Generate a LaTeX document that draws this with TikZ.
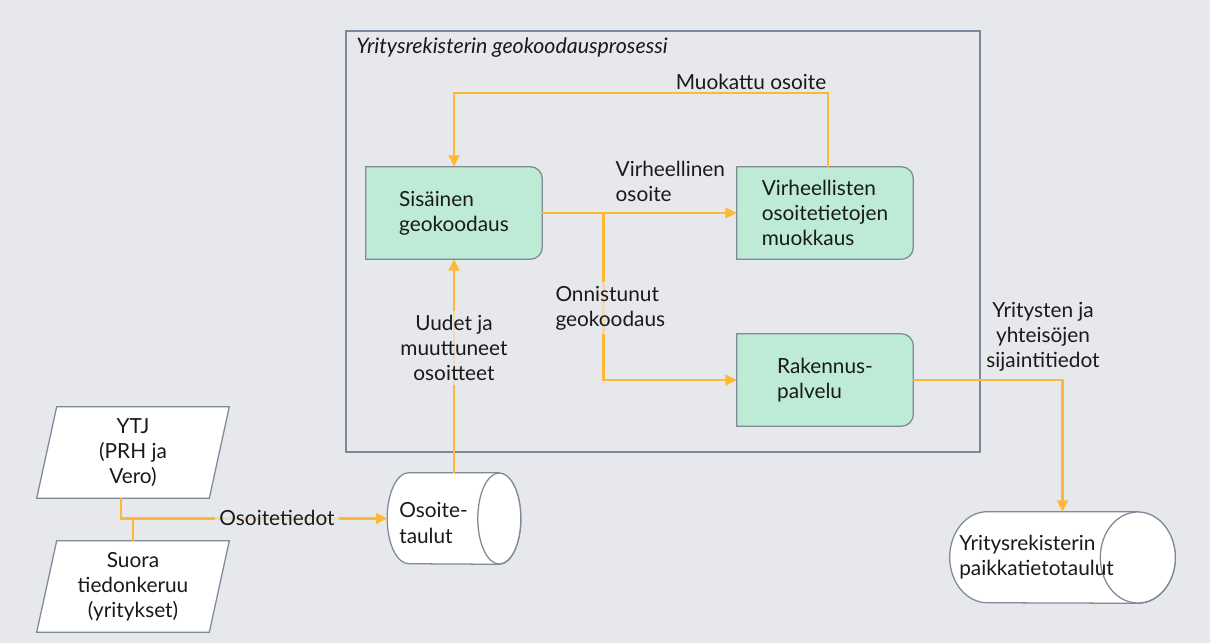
\documentclass[tikz,border=0pt]{standalone}
\usepackage{fontspec}
\setmainfont{Lato}
\usetikzlibrary{arrows.meta,backgrounds,calc}
\definecolor{bg}{HTML}{E7E8EC}
\definecolor{orng}{HTML}{FDB933}
\definecolor{boxgreen}{HTML}{BDEBD5}
\definecolor{boxgrey}{HTML}{7F8A96}
\definecolor{framegrey}{HTML}{7B879A}
\definecolor{txt}{HTML}{1A1A1A}
\tikzset{
  every node/.style={font=\fontsize{14.8}{17.8}\selectfont, text=txt},
  procbox/.style={minimum width=4.4cm, minimum height=2.3cm, align=left, inner sep=0pt},
  holder/.style={minimum height=2.275cm, inner sep=0pt},
  flow/.style={draw=orng, line width=1.8pt, -{Triangle[length=8pt,width=7.5pt]}},
  plainline/.style={draw=orng, line width=1.8pt},
  lbl/.style={align=center, inner sep=1pt},
  lblbg/.style={lbl, fill=bg, fill opacity=0.75, text opacity=1, inner sep=3pt},
  shapeline/.style={draw=boxgrey, line width=0.9pt},
}
\begin{document}
\begin{tikzpicture}[x=0.025cm,y=-0.025cm]
% frame of the process
\node[draw=framegrey, line width=1.2pt, minimum width=15.85cm, minimum height=10.525cm, inner sep=0pt] (proc) at (663,241.5) {};
\node[anchor=west, inner sep=0pt, font=\fontsize{15.2}{18}\selectfont\itshape] (title) at (356,48) {Yritysrekisterin geokoodausprosessi};

% process boxes
\node[procbox] (sis) at (454,213) {Sisäinen\\geokoodaus};
\node[procbox] (virh) at (825,213) {Virheellisten\\osoitetietojen\\muokkaus};
\node[procbox] (rak) at (825,380) {Rakennus-\\palvelu};

% data stores
\node[holder, minimum width=3.325cm] (osoite) at (454,518.5) {};
\node[anchor=west, align=left, inner sep=0pt] (osoitetxt) at (399,523) {Osoite-\\taulut};
\node[holder, minimum width=5.625cm] (yrit) at (1062.5,557.5) {};
\node[anchor=west, align=left, inner sep=0pt] (yrittxt) at (959,557) {Yritysrekisterin\\paikkatietotaulut};

% inputs
\node[holder, minimum width=4.8cm, align=center] (ytj) at (133,452.5) {YTJ\\(PRH ja\\Vero)};
\node[holder, minimum width=4.8cm, align=center] (suora) at (133,586.5) {Suora\\tiedonkeruu\\(yritykset)};

\begin{scope}[on background layer]
  \fill[bg] (0,0) rectangle (1210,643);
  % rounded-right process boxes
  \foreach \b in {sis,virh,rak}{
    \path[shapeline, fill=boxgreen] (\b.south west) -- (\b.north west)
      -- ([xshift=-0.3cm]\b.north east) arc[start angle=90, end angle=0, radius=0.3cm]
      -- ([yshift=0.3cm]\b.south east) arc[start angle=0, end angle=-90, radius=0.3cm]
      -- cycle;
  }
  % cylinders
  \path[shapeline, fill=white] ([xshift=-0.5375cm]osoite.north east) -- ([xshift=0.5375cm]osoite.north west)
     arc[start angle=90, end angle=270, x radius=0.5375cm, y radius=1.1375cm]
     -- ([xshift=-0.5375cm]osoite.south east)
     arc[start angle=-90, end angle=90, x radius=0.5375cm, y radius=1.1375cm] -- cycle;
  \path[shapeline, fill=white] ([xshift=-0.5375cm]osoite.east) ellipse[x radius=0.5375cm, y radius=1.1375cm];
  \path[shapeline, fill=white] ([xshift=-0.9375cm]yrit.north east) -- ([xshift=0.9375cm]yrit.north west)
     arc[start angle=90, end angle=270, x radius=0.9375cm, y radius=1.1375cm]
     -- ([xshift=-0.9375cm]yrit.south east)
     arc[start angle=-90, end angle=90, x radius=0.9375cm, y radius=1.1375cm] -- cycle;
  \path[shapeline, fill=white] ([xshift=-0.9375cm]yrit.east) ellipse[x radius=0.9375cm, y radius=1.1375cm];
  % parallelograms
  \foreach \p in {ytj,suora}{
    \path[shapeline, fill=white] ([xshift=0.5cm]\p.north west) -- (\p.north east)
      -- ([xshift=-0.5cm]\p.south east) -- (\p.south west) -- cycle;
  }
\end{scope}

% connectors
\draw[flow] ([xshift=-0.3cm]ytj.south) |- (osoite.west);
\draw[plainline] (suora.north) -- (suora.north |- osoite.west);
\draw[flow] (osoite.north) -- (sis.south);
\draw[flow] (sis.east) -- (virh.west);
\coordinate (branch) at ($(sis.east)+(61,0)$);
\draw[flow] (branch) |- (rak.west);
\coordinate (fbk) at (828,93);
\draw[flow] (virh.north -| fbk) -- (fbk) -| (sis.north);
\draw[flow] (rak.east) -| (yrit.north);

% connector labels
\node[lblbg] (lOsoitetiedot) at (277,518) {Osoitetiedot};
\node[lblbg] (lUudet) at (454,348) {Uudet ja\\muuttuneet\\osoitteet};
\node[lbl, align=left, anchor=west] (lVirh) at (614,181) {Virheellinen\\osoite};
\node[lblbg, align=left, anchor=west] (lOnn) at (551,308) {Onnistunut\\geokoodaus};
\node[lbl] (lMuok) at (751,82) {Muokattu osoite};
\node[lbl] (lSij) at (1043,337) {Yritysten ja\\yhteisöjen\\sijaintitiedot};
\end{tikzpicture}
\end{document}
